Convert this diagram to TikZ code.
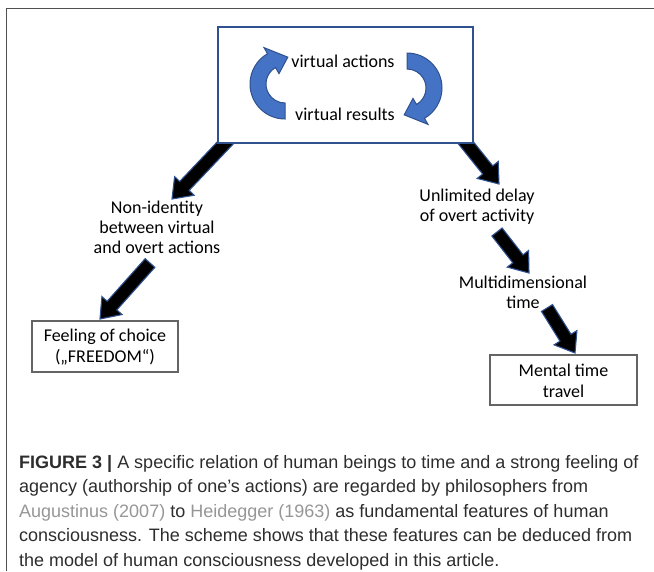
\documentclass[tikz,border=0pt]{standalone}
\usepackage{fontspec}
\setmainfont{Carlito}
\newfontfamily\capfont{Liberation Sans}
\usetikzlibrary{calc}
\definecolor{arrowblue}{RGB}{47,82,143}
\definecolor{cycblue}{RGB}{68,114,196}
\definecolor{capgray}{RGB}{45,45,45}
\definecolor{refgray}{RGB}{150,150,150}
\definecolor{framegray}{RGB}{80,80,80}
\definecolor{boxgray}{RGB}{100,100,100}
\newcommand\blockarr[2]{%
  \filldraw[blk] ($(#1)!6.5pt!90:(#2)$) -- ($(#2)!18pt!(#1)!6.5pt!-90:(#1)$)
    -- ($(#2)!18pt!(#1)!13.5pt!-90:(#1)$) -- (#2)
    -- ($(#2)!18pt!(#1)!13.5pt!90:(#1)$) -- ($(#2)!18pt!(#1)!6.5pt!90:(#1)$)
    -- ($(#1)!6.5pt!-90:(#2)$) -- cycle;}
\begin{document}
\begin{tikzpicture}[x=1pt,y=-1pt,
  blk/.style={fill=black, draw=arrowblue, line width=1.1pt, line join=miter},
  cyc/.style={fill=cycblue, draw=arrowblue, line width=1pt},
  dtext/.style={font=\fontsize{18}{20}\selectfont, align=center, inner sep=0pt},
  ibox/.style={draw=boxgray, line width=1.1pt, fill=white},
  capline/.style={anchor=base west, inner sep=0pt, font=\capfont\fontsize{18}{20}\selectfont, text=capgray}]
\useasboundingbox (0,0) rectangle (654,571);
\draw[framegray, line width=1pt] (654,8) -- (6,8) -- (6,571);

% arrow end points
\coordinate (a1s) at (229,139);
\coordinate (a1e) at (172,199);
\coordinate (a2s) at (150,263);
\coordinate (a2e) at (100,319);
\coordinate (b1s) at (462,138);
\coordinate (b1e) at (499,184);
\coordinate (b2s) at (497,232);
\coordinate (b2e) at (529,273);
\coordinate (b3s) at (547,308);
\coordinate (b3e) at (575,353);

\blockarr{a1s}{a1e}
\blockarr{a2s}{a2e}
\blockarr{b1s}{b1e}
\blockarr{b2s}{b2e}
\blockarr{b3s}{b3e}

% top box
\node[draw=arrowblue, line width=1.6pt, fill=white, minimum width=255pt, minimum height=116pt] (top) at (345.5,85) {};
\node[dtext] (va) at (343,61) {virtual actions};
\node[dtext] (vr) at (345,114) {virtual results};

% left cycle arrow (bottom -> left -> top, pointing right)
\coordinate (lc) at (285,84);
\filldraw[cyc] ($(lc)+(90:35)$) arc[start angle=90, end angle=240, radius=35]
  -- ($(lc)+(240:42)$) -- ($(lc)+(276:27)$) -- ($(lc)+(240:12)$) -- ($(lc)+(240:19)$)
  arc[start angle=240, end angle=90, radius=19] -- cycle;
% right cycle arrow (top -> right -> bottom, pointing left)
\coordinate (rc) at (407,88);
\filldraw[cyc] ($(rc)+(270:35)$) arc[start angle=270, end angle=420, radius=35]
  -- ($(rc)+(60:42)$) -- ($(rc)+(96:27)$) -- ($(rc)+(60:12)$) -- ($(rc)+(60:19)$)
  arc[start angle=420, end angle=270, radius=19] -- cycle;

% labels
\node[dtext] (ni) at (157,227) {Non-identity\\between virtual\\and overt actions};
\node[dtext] (ud) at (477,207) {Unlimited delay\\of overt activity};
\node[dtext] (md) at (523,292) {Multidimensional\\time};

\node[ibox, minimum width=146pt, minimum height=51pt] (fc) at (105,346.5) {};
\node[dtext, font=\fontsize{18}{21}\selectfont] (fct) at (105,347) {Feeling of choice\\(„FREEDOM“)};
\node[ibox, minimum width=147pt, minimum height=50pt] (mt) at (563.5,380) {};
\node[dtext, font=\fontsize{18}{21}\selectfont] (mtt) at (563.5,381) {Mental time\\travel};

% caption
\node[capline] (c1) at (19,468) {\textbf{FIGURE 3 |} A specific relation of human beings to time and a strong feeling of};
\node[capline] (c2) at (19,492.6) {agency (authorship of one’s actions) are regarded by philosophers from};
\node[capline] (c3) at (19,517.2) {\textcolor{refgray}{Augustinus (2007)} to \textcolor{refgray}{Heidegger (1963)} as fundamental features of human};
\node[capline] (c4) at (19,541.8) {consciousness. The scheme shows that these features can be deduced from};
\node[capline] (c5) at (19,566.4) {the model of human consciousness developed in this article.};
\end{tikzpicture}
\end{document}
